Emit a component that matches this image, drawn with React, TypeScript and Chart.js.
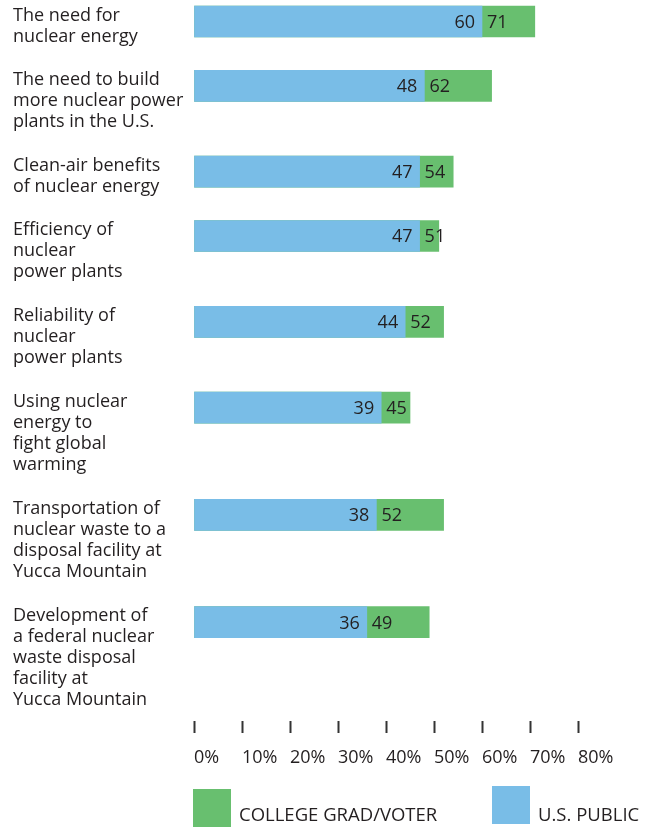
import React, { useEffect, useRef } from "react";
import { Chart, registerables } from "chart.js";

Chart.register(...registerables);

// ---------- data ----------
const CATEGORY_LINES: string[][] = [
  ["The need for", "nuclear energy"],
  ["The need to build", "more nuclear power", "plants in the U.S."],
  ["Clean-air benefits", "of nuclear energy"],
  ["Efficiency of", "nuclear", "power plants"],
  ["Reliability of", "nuclear", "power plants"],
  ["Using nuclear", "energy to", "fight global", "warming"],
  ["Transportation of", "nuclear waste to a", "disposal facility at", "Yucca Mountain"],
  ["Development of", "a federal nuclear", "waste disposal", "facility at", "Yucca Mountain"],
];
const US_PUBLIC = [60, 48, 47, 47, 44, 39, 38, 36];
const COLLEGE_GRAD_VOTER = [71, 62, 54, 51, 52, 45, 52, 49];
const X_TICKS = [0, 10, 20, 30, 40, 50, 60, 70, 80];
const SERIES_NAMES = ["COLLEGE GRAD/VOTER", "U.S. PUBLIC"];

// ---------- styles / layout ----------
const BLUE = "#79bde7";
const GREEN = "#68bf6f";
const TEXT = "#231f20";
const FONT = "'Open Sans', sans-serif";
const W = 654;
const H = 827;
const UNIT = 21.45; // px per label line slot
const LINE = 21; // label line height px
const PLOT_LEFT = 194;
const PLOT_RIGHT = 578;
const PLOT_BOTTOM = 721;
const X_AXIS_H = 48;

// slot start of each category (in line units): each slot = its label lines + one blank line
const SLOT_STARTS: number[] = CATEGORY_LINES.reduce<number[]>((acc, _lines, i) => {
  acc.push(i === 0 ? 0 : acc[i - 1] + CATEGORY_LINES[i - 1].length + 1);
  return acc;
}, []);
const BAR_POS = SLOT_STARTS.map((s) => s + 21.5 / UNIT);
const LABEL_POS = SLOT_STARTS.map(
  (s, i) => s + 15.6 / UNIT + ((CATEGORY_LINES[i].length - 1) * LINE) / UNIT / 2
);
const Y_MAX = PLOT_BOTTOM / UNIT;

const valueLabels = {
  id: "valueLabels",
  afterDatasetsDraw(chart: any) {
    const ctx = chart.ctx;
    const pubMeta = chart.getDatasetMeta(1);
    const colData = chart.data.datasets[0].data;
    const pubData = chart.data.datasets[1].data;
    ctx.save();
    ctx.font = `18px ${FONT}`;
    ctx.fillStyle = TEXT;
    ctx.textBaseline = "alphabetic";
    pubMeta.data.forEach((bar: any, i: number) => {
      const { x, y } = bar.getProps(["x", "y"], true);
      ctx.textAlign = "right";
      ctx.fillText(String(pubData[i].x), x - 7, y + 6.4);
      ctx.textAlign = "left";
      ctx.fillText(String(colData[i].x), x + 5, y + 6.4);
    });
    ctx.restore();
  },
};

const boxLegend = {
  id: "boxLegend",
  afterDraw(chart: any) {
    const ctx = chart.ctx;
    const xs = [193, 492];
    const ys = [789, 786];
    ctx.save();
    ctx.font = `18.5px ${FONT}`;
    chart.data.datasets.forEach((ds: any, i: number) => {
      ctx.fillStyle = ds.backgroundColor;
      ctx.fillRect(xs[i], ys[i], 38, 38);
      ctx.fillStyle = TEXT;
      ctx.textAlign = "left";
      ctx.textBaseline = "alphabetic";
      ctx.fillText(ds.label, xs[i] + 46, 821);
    });
    ctx.restore();
  },
};

export default function App() {
  const ref = useRef<HTMLCanvasElement | null>(null);

  useEffect(() => {
    if (!ref.current) return;
    const chart = new Chart(ref.current, {
      type: "bar",
      data: {
        datasets: [
          {
            label: SERIES_NAMES[0],
            data: COLLEGE_GRAD_VOTER.map((v, i) => ({ x: v, y: BAR_POS[i] })),
            backgroundColor: GREEN,
            borderWidth: 0,
            barThickness: 31,
            grouped: false,
            order: 2,
          },
          {
            label: SERIES_NAMES[1],
            data: US_PUBLIC.map((v, i) => ({ x: v, y: BAR_POS[i] })),
            backgroundColor: BLUE,
            borderWidth: 0,
            barThickness: 31,
            grouped: false,
            order: 1,
          },
        ] as any,
      },
      options: {
        indexAxis: "y",
        animation: false,
        responsive: false,
        layout: {
          padding: {
            left: 13,
            right: W - PLOT_RIGHT,
            top: 0,
            bottom: H - PLOT_BOTTOM - X_AXIS_H,
          },
        },
        plugins: {
          legend: { display: false },
          tooltip: { enabled: false },
        },
        scales: {
          x: {
            type: "linear",
            position: "bottom",
            offset: false,
            min: 0,
            max: 80,
            afterBuildTicks: (scale: any) => {
              scale.ticks = X_TICKS.map((v) => ({ value: v }));
            },
            afterFit: (scale: any) => {
              scale.height = X_AXIS_H;
            },
            grid: {
              display: true,
              offset: false,
              drawOnChartArea: false,
              drawTicks: true,
              tickLength: 12,
              tickWidth: 2,
              tickColor: "#333",
            },
            border: { display: false },
            ticks: {
              align: "start",
              padding: 14,
              maxRotation: 0,
              autoSkip: false,
              color: TEXT,
              font: { family: FONT, size: 18, lineHeight: 1.2 },
              callback: (v: any) => `${v}%`,
            },
          },
          y: {
            type: "linear",
            position: "left",
            offset: false,
            reverse: true,
            min: 0,
            max: Y_MAX,
            afterBuildTicks: (scale: any) => {
              scale.ticks = LABEL_POS.map((v) => ({ value: v }));
            },
            afterFit: (scale: any) => {
              scale.width = PLOT_LEFT - 13;
              scale.paddingTop = 0;
              scale.paddingBottom = 0;
            },
            grid: { display: false, offset: false },
            border: { display: false },
            ticks: {
              autoSkip: false,
              crossAlign: "far",
              padding: 0,
              color: TEXT,
              font: { family: FONT, size: 18, lineHeight: LINE / 18 },
              callback: (_v: any, i: number) => CATEGORY_LINES[i],
            },
          },
        },
      } as any,
      plugins: [valueLabels, boxLegend],
    });
    return () => chart.destroy();
  }, []);

  return (
    <div style={{ position: "absolute", left: 0, top: 0, width: W, height: H, background: "#fff" }}>
      <canvas ref={ref} width={W} height={H} style={{ width: W, height: H, display: "block" }} />
    </div>
  );
}
